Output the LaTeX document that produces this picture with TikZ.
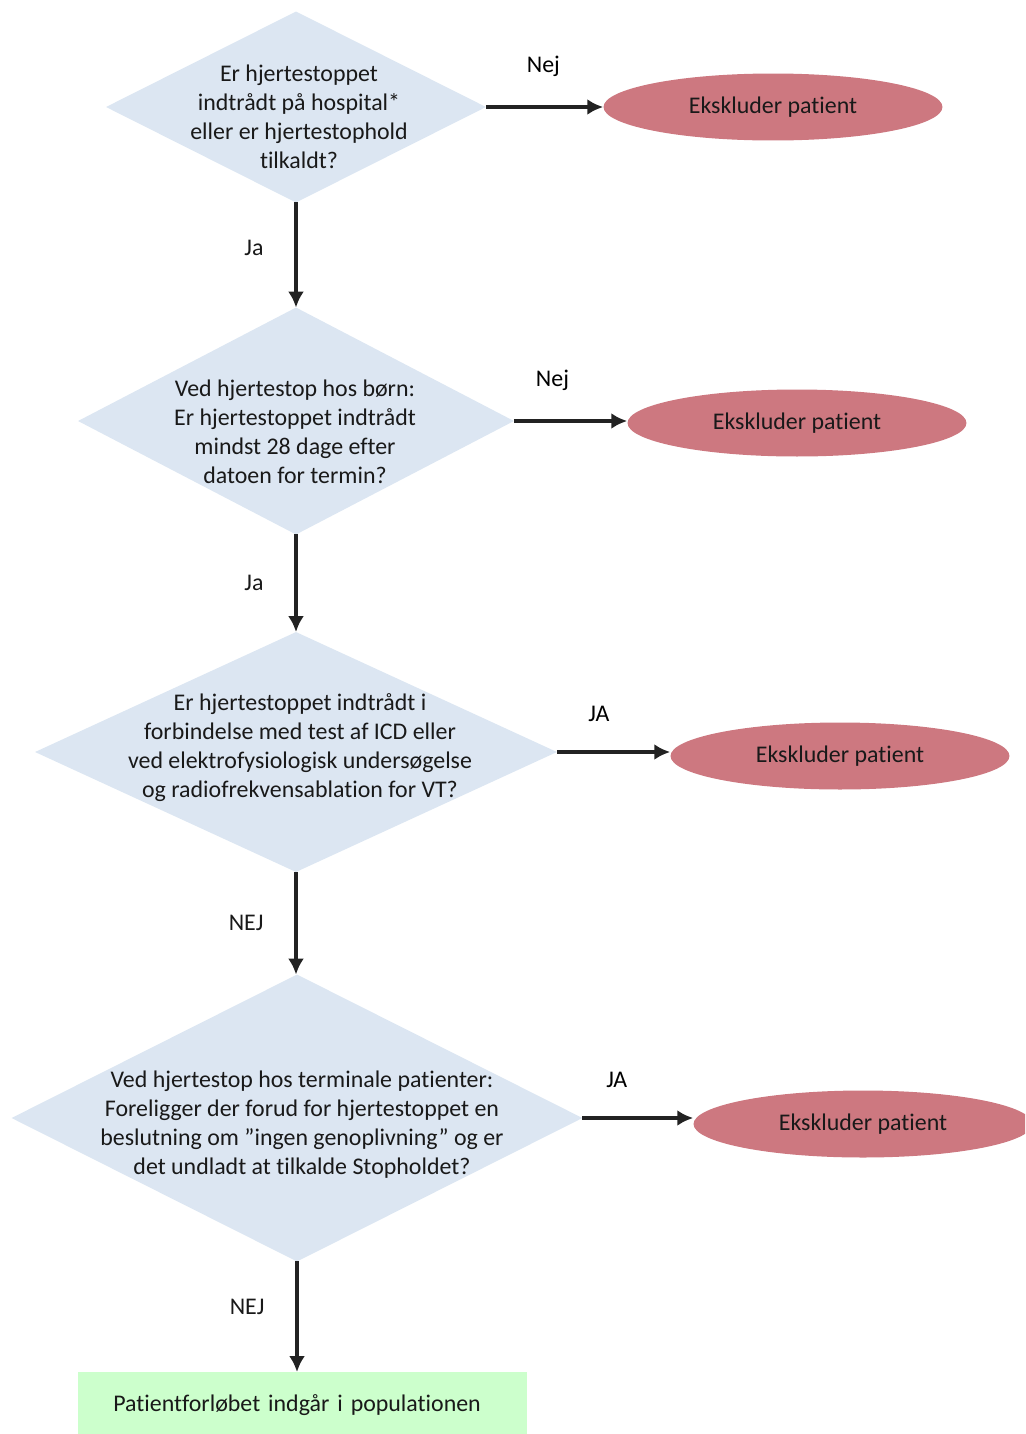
\documentclass[tikz,border=0pt]{standalone}
\usepackage{fontspec}
\setmainfont{Carlito}[Ligatures=NoCommon]
\usetikzlibrary{shapes.geometric,arrows.meta}
\definecolor{qblue}{HTML}{DCE6F2}
\definecolor{exred}{HTML}{CD7880}
\definecolor{okgreen}{HTML}{CCFFCC}
\definecolor{inkgray}{HTML}{222222}

\begin{document}
\begin{tikzpicture}[x=0.02cm,y=-0.02cm]
		\tikzstyle question_style=[diamond,fill=qblue,inner sep=0pt,outer sep=0pt];
		\tikzstyle text_style=[align=center,font=\fontsize{13.6}{16.5}\selectfont,text=black!90];
		\tikzstyle exclude_style=[ellipse,fill=exred,minimum width=6.78cm,minimum height=1.34cm];
		\tikzstyle arrow_style=[draw=inkgray,line width=1.9pt,->,>={Latex[length=9pt,width=9pt]}];

		% PAGE
		\clip (0,0) rectangle (1025,1434);

		% QUESTIONS
		\node[question_style,minimum width=7.6cm,minimum height=3.82cm] (q1) at (296,107) {};
		\node[question_style,minimum width=8.72cm,minimum height=4.54cm] (q2) at (296,421) {};
		\node[question_style,minimum width=10.44cm,minimum height=4.8cm] (q3) at (296,752) {};
		\node[question_style,minimum width=11.42cm,minimum height=5.74cm] (q4) at (297,1118) {};

		\node[text_style] (q1text) at (299,117) {Er hjertestoppet\\indtrådt på hospital*\\eller er hjertestophold\\tilkaldt?};
		\node[text_style] (q2text) at (295,432) {Ved hjertestop hos børn:\\Er hjertestoppet indtrådt\\mindst 28 dage efter\\datoen for termin?};
		\node[text_style] (q3text) at (300,748) {Er hjertestoppet indtrådt i\\forbindelse med test af ICD eller\\ved elektrofysiologisk undersøgelse\\og radiofrekvensablation for VT?};
		\node[text_style] (q4text) at (302,1125) {Ved hjertestop hos terminale patienter:\\Foreligger der forud for hjertestoppet en\\beslutning om ”ingen genoplivning” og er\\det undladt at tilkalde Stopholdet?};

		% EXCLUDED
		\foreach \n/\x/\y in {1/773/107, 2/797/423, 3/840/756, 4/863/1124}
			\node[exclude_style,text_style] (ex\n) at (\x,\y) {Ekskluder patient};

		% RESULT
		\node[fill=okgreen,text_style,align=left,anchor=north west,minimum width=8.98cm,minimum height=1.3cm,text width=7.58cm,inner xsep=0.7cm] (result) at (78,1372) {Patientforløbet indgår i populationen};

		% SIDE ARROWS
		\foreach \n/\answer/\p in {1/Nej/0.49, 2/Nej/0.34, 3/JA/0.37, 4/JA/0.31}
			\draw[arrow_style] (q\n.east) -- node[pos=\p,above=0.45cm,text_style,text=black]{\answer} (q\n.east -| ex\n.west);

		% DOWN ARROWS
		\draw[arrow_style] (q1.south) -- node[pos=0.43,left=0.5cm,text_style]{Ja} (q2.north);
		\draw[arrow_style] (q2.south) -- node[midway,left=0.5cm,text_style]{Ja} (q3.north);
		\draw[arrow_style] (q3.south) -- node[midway,left=0.5cm,text_style]{NEJ} (q3.south |- q4.north);
		\draw[arrow_style] (q4.south) -- node[pos=0.41,left=0.5cm,text_style]{NEJ} (q4.south |- result.north);
\end{tikzpicture}
\end{document}
